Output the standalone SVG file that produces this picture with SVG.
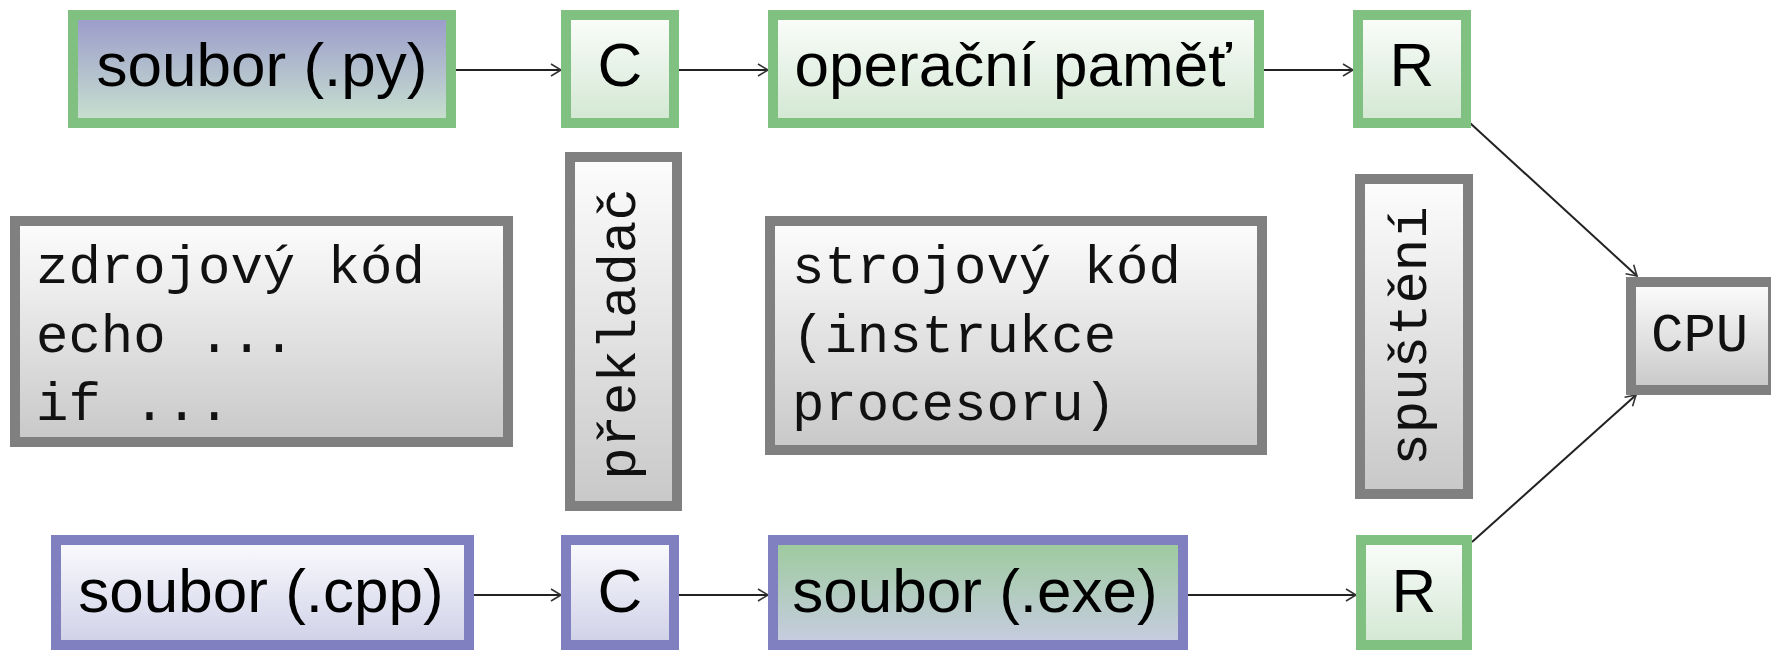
<svg xmlns="http://www.w3.org/2000/svg" width="1771" height="650" viewBox="0 0 1771 650">
  <defs>
    <linearGradient id="gGreen" x1="0" y1="0" x2="0" y2="1">
      <stop offset="0" stop-color="#fbfdfb"/>
      <stop offset="1" stop-color="#d2e7d2"/>
    </linearGradient>
    <linearGradient id="gPy" x1="0" y1="0" x2="0" y2="1">
      <stop offset="0" stop-color="#9a9acb"/>
      <stop offset="1" stop-color="#c9e2cf"/>
    </linearGradient>
    <linearGradient id="gPurple" x1="0" y1="0" x2="0" y2="1">
      <stop offset="0" stop-color="#fbfbfe"/>
      <stop offset="1" stop-color="#cfd0e7"/>
    </linearGradient>
    <linearGradient id="gExe" x1="0" y1="0" x2="0" y2="1">
      <stop offset="0" stop-color="#9ccb9c"/>
      <stop offset="1" stop-color="#c8cce2"/>
    </linearGradient>
    <linearGradient id="gGray" x1="0" y1="0" x2="0" y2="1">
      <stop offset="0" stop-color="#fdfdfd"/>
      <stop offset="1" stop-color="#c8c8c8"/>
    </linearGradient>
    <marker id="arr" markerUnits="userSpaceOnUse" markerWidth="16" markerHeight="16" viewBox="0 0 16 16" refX="14" refY="8" orient="auto">
      <path d="M4,2 L14,8 L4,14" fill="none" stroke="#333" stroke-width="1.6"/>
    </marker>
  </defs>
  <style>
    .gb { stroke: #80c080; stroke-width: 10; }
    .pb { stroke: #8080c0; stroke-width: 10; }
    .kb { stroke: #808080; stroke-width: 10; }
    .sans { font-family: "Liberation Sans", Arial, sans-serif; font-size: 62px; fill: #000; text-anchor: middle; }
    .mono { font-family: "Liberation Mono", "Courier New", monospace; font-size: 54px; fill: #111; }
    .conn { stroke: #222; stroke-width: 2; fill: none; marker-end: url(#arr); }
  </style>

  <g id="connectors">
    <line class="conn" x1="456" y1="70" x2="561" y2="70"/>
    <line class="conn" x1="679" y1="70" x2="768" y2="70"/>
    <line class="conn" x1="1264" y1="70" x2="1353" y2="70"/>
    <line class="conn" x1="474" y1="595" x2="561" y2="595"/>
    <line class="conn" x1="679" y1="595" x2="768" y2="595"/>
    <line class="conn" x1="1188" y1="595" x2="1356" y2="595"/>
    <line class="conn" x1="1470" y1="123" x2="1637" y2="276"/>
    <line class="conn" x1="1472" y1="542" x2="1636" y2="395"/>
  </g>

  <g id="node-soubor-py">
    <rect class="gb" x="73" y="15" width="378" height="108" fill="url(#gPy)"/>
    <text class="sans" x="262" y="86">soubor (.py)</text>
  </g>
  <g id="node-c-top">
    <rect class="gb" x="566" y="15" width="108" height="108" fill="url(#gGreen)"/>
    <text class="sans" x="620" y="86">C</text>
  </g>
  <g id="node-operacni-pamet">
    <rect class="gb" x="773" y="15" width="486" height="108" fill="url(#gGreen)"/>
    <text class="sans" x="1013" y="86">operační paměť</text>
  </g>
  <g id="node-r-top">
    <rect class="gb" x="1358" y="15" width="108" height="108" fill="url(#gGreen)"/>
    <text class="sans" x="1412" y="86">R</text>
  </g>

  <g id="node-zdrojovy-kod">
    <rect class="kb" x="15" y="221" width="493" height="221" fill="url(#gGray)"/>
    <text class="mono" x="36" y="283">zdrojový kód</text>
    <text class="mono" x="36" y="352">echo ...</text>
    <text class="mono" x="36" y="420">if ...</text>
  </g>
  <g id="node-prekladac">
    <rect class="kb" x="570" y="157" width="107" height="349" fill="url(#gGray)"/>
    <text class="mono" text-anchor="middle" transform="translate(635,334) rotate(-90)">překladač</text>
  </g>
  <g id="node-strojovy-kod">
    <rect class="kb" x="770" y="221" width="492" height="229" fill="url(#gGray)"/>
    <text class="mono" x="792" y="283">strojový kód</text>
    <text class="mono" x="792" y="352">(instrukce</text>
    <text class="mono" x="792" y="420">procesoru)</text>
  </g>
  <g id="node-spusteni">
    <rect class="kb" x="1360" y="179" width="108" height="315" fill="url(#gGray)"/>
    <text class="mono" text-anchor="middle" transform="translate(1426,336) rotate(-90)">spuštění</text>
  </g>
  <g id="node-cpu">
    <rect class="kb" x="1631" y="282" width="142" height="108" fill="url(#gGray)"/>
    <text class="mono" x="1651" y="351">CPU</text>
  </g>

  <g id="node-soubor-cpp">
    <rect class="pb" x="56" y="540" width="413" height="105" fill="url(#gPurple)"/>
    <text class="sans" x="261" y="612">soubor (.cpp)</text>
  </g>
  <g id="node-c-bottom">
    <rect class="pb" x="566" y="540" width="108" height="105" fill="url(#gPurple)"/>
    <text class="sans" x="620" y="612">C</text>
  </g>
  <g id="node-soubor-exe">
    <rect class="pb" x="773" y="540" width="410" height="105" fill="url(#gExe)"/>
    <text class="sans" x="975" y="612">soubor (.exe)</text>
  </g>
  <g id="node-r-bottom">
    <rect class="gb" x="1361" y="540" width="106" height="105" fill="url(#gGreen)"/>
    <text class="sans" x="1414" y="612">R</text>
  </g>
</svg>
